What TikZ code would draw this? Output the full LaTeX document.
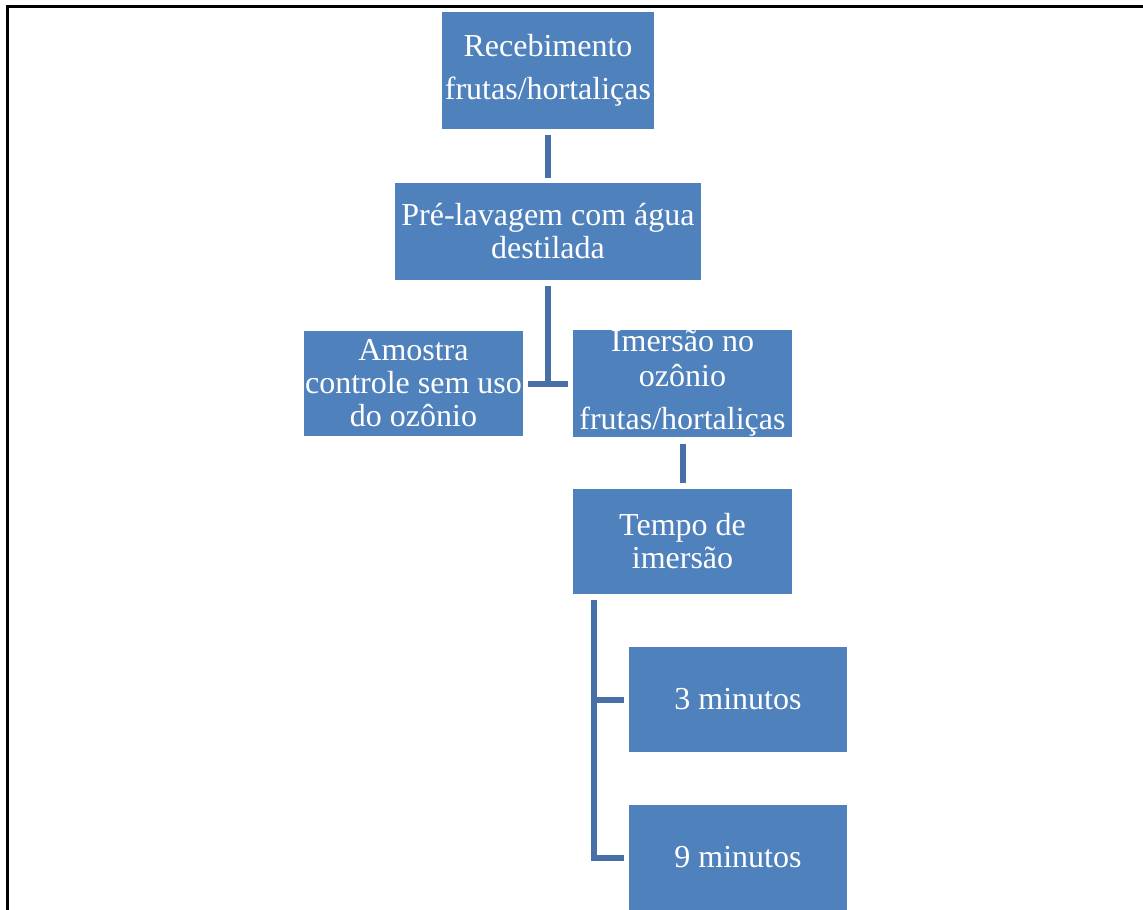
\documentclass[tikz,border=0pt]{standalone}
\usepackage{fontspec}
\setmainfont{Liberation Serif}
\usepackage{xcolor}
\definecolor{boxBlue}{HTML}{4F81BD}
\definecolor{linkBlue}{HTML}{4670A6}
\definecolor{frameBlack}{HTML}{000000}
\usepackage{tikz}
\usetikzlibrary{
    arrows.meta,
    positioning,
    calc
}
\tikzset{
    % Base style for all boxes
    stage base/.style={
        font=\fontsize{32}{33}\selectfont,
        align=center,
        text=white,
        inner sep=0pt,
        minimum height=105pt,
    },
    % Process boxes - flat blue rectangles
    stage/.style={
        stage base,
        rectangle,
        fill=boxBlue,
        minimum width=219pt,
    },
    % Elbow connector - thick, square ends
    link/.style={
        line width=6pt,
        draw=linkBlue,
        shorten >=4.5pt,
        shorten <=5.5pt,
    },
    % Page frame
    frame line/.style={
        line width=3pt,
        draw=frameBlack,
    },
}
\begin{document}
\begin{tikzpicture}[x=1pt, y=-1pt]
    \useasboundingbox (0,0) rectangle (1143,910);
    \draw [frame line] (7.5,910) -- (7.5,6.5) -- (1143,6.5);

    \node (receb) [stage, minimum width=212pt, minimum height=117pt] at (548,70.5)
        {Recebimento\\[10pt]frutas/hortaliças};
    \node (prelav) [stage, minimum width=306pt, minimum height=97pt] at (548,231.5)
        {Pré-lavagem com água\\destilada};
    \node (controle) [stage] at (413.5,383.5)
        {Amostra\\controle sem uso\\do ozônio};
    \node (imersao) [stage] at (682.5,383.5)
        {Imersão no\\[2pt]ozônio\\[10pt]frutas/hortaliças};
    \node (tempo) [stage] at (682.5,541.5) {Tempo de\\imersão};
    \node (min3) [stage, minimum width=218pt] at (738,699.5) {3 minutos};
    \node (min9) [stage, minimum width=218pt] at (738,857.5) {9 minutos};

    \draw [link] (receb) -- (prelav);
    \draw [link] (prelav) |- (controle);
    \draw [link] (prelav) |- (imersao);
    \draw [link, shorten <=7pt, shorten >=6pt] (imersao) -- (tempo);
    \draw [link] ([xshift=21pt]tempo.south west) |- (min3.west);
    \draw [link] ([xshift=21pt]tempo.south west) |- (min9.west);
\end{tikzpicture}
\end{document}
